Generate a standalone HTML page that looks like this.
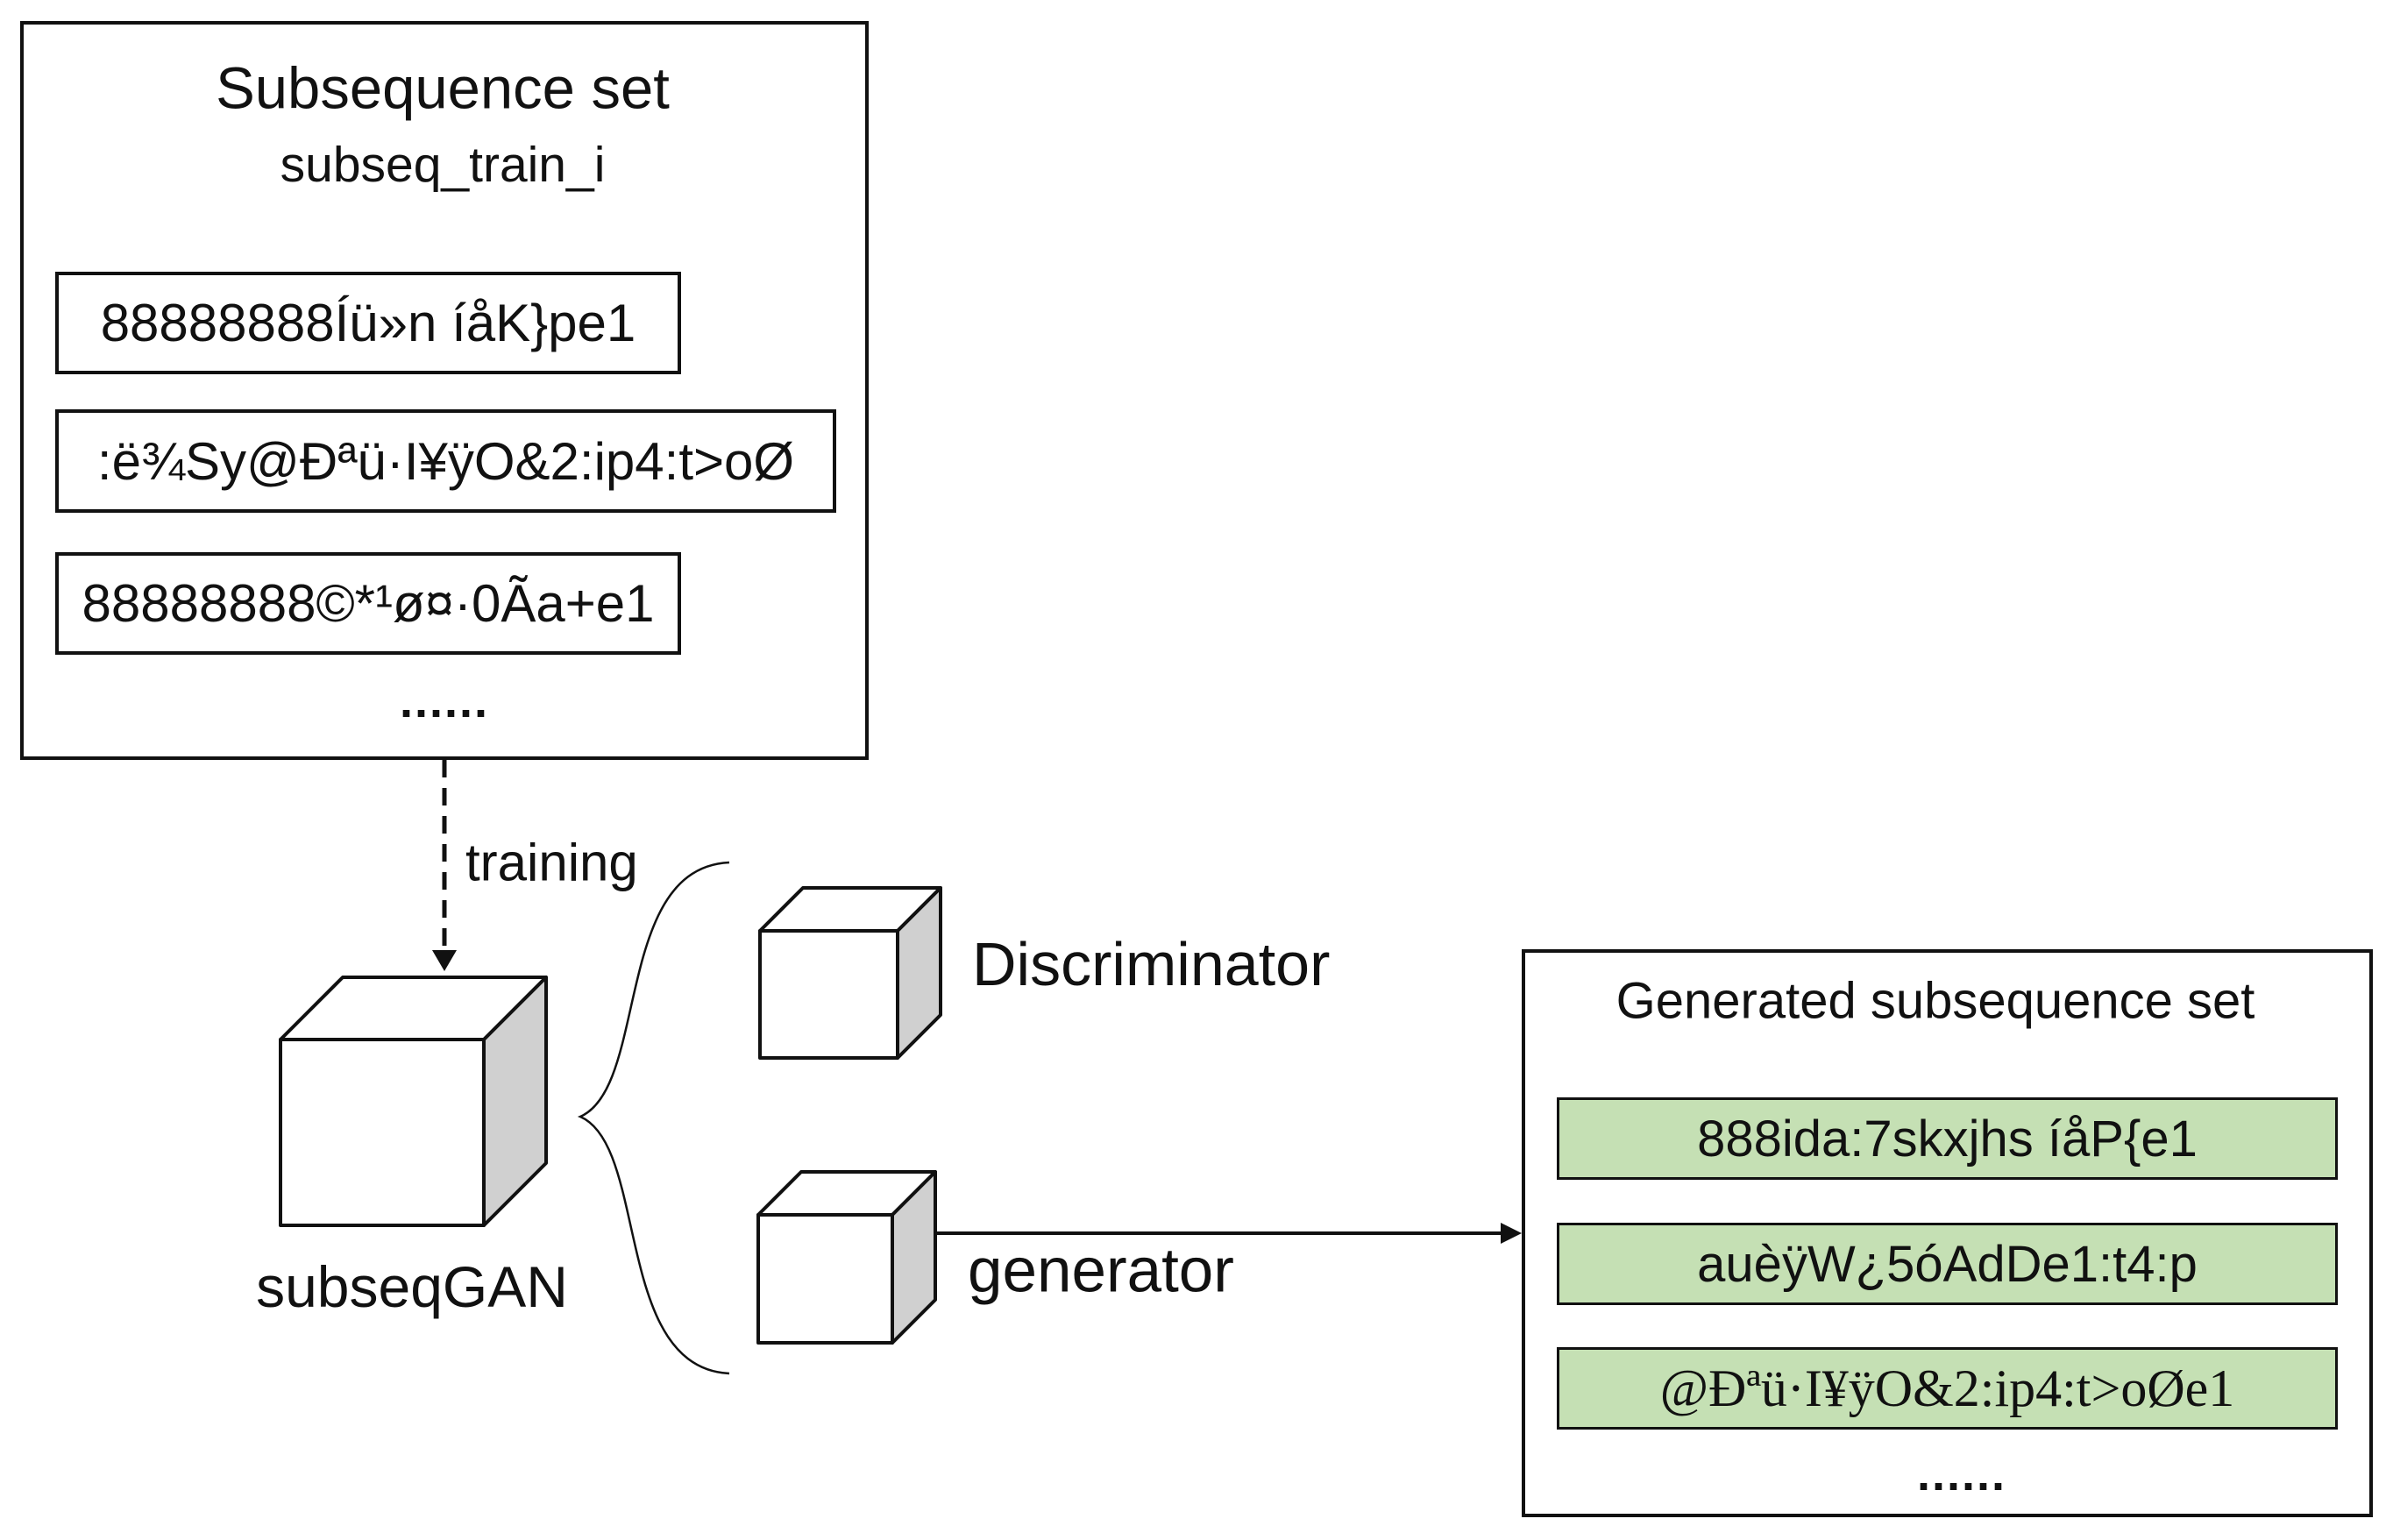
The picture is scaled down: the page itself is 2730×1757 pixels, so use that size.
<!DOCTYPE html>
<html><head><meta charset="utf-8"><style>
html,body{margin:0;padding:0;background:#fff;}
body{width:2730px;height:1757px;position:relative;overflow:hidden;font-family:"Liberation Sans","DejaVu Sans",sans-serif;color:#111;}
.t{position:absolute;white-space:nowrap;transform:translate(-50%,-50%);}
.l{position:absolute;white-space:nowrap;transform:translateY(-50%);}
.box{position:absolute;border:4px solid #111;box-sizing:border-box;display:flex;align-items:center;justify-content:center;font-size:60px;white-space:nowrap;}
.g{background:#c5e0b4;border-width:3px;font-size:58px;}
.d{font-weight:bold;letter-spacing:2px;}
</style></head><body>
<div class="box" style="left:23px;top:24px;width:968px;height:843px;"></div>
<div class="t" style="left:505px;top:101px;font-size:67px;">Subsequence set</div>
<div class="t" style="left:505px;top:188px;font-size:57px;">subseq_train_i</div>
<div class="box" style="left:63px;top:310px;width:714px;height:117px;">88888888Íü»n íåK}pe1</div>
<div class="box" style="left:63px;top:467px;width:891px;height:118px;">:ë¾Sy@Ðªü·I¥ÿO&amp;2:ip4:t&gt;oØ</div>
<div class="box" style="left:63px;top:630px;width:714px;height:117px;">88888888©*¹ø¤·0Ãa+e1</div>
<div class="t d" style="left:507px;top:800px;font-size:54px;">......</div>

<div class="box" style="left:1736px;top:1083px;width:971px;height:648px;"></div>
<div class="t" style="left:2208px;top:1142px;font-size:58px;">Generated subsequence set</div>
<div class="box g" style="left:1776px;top:1252px;width:891px;height:94px;">888ida:7skxjhs íåP{e1</div>
<div class="box g" style="left:1776px;top:1395px;width:891px;height:94px;">auèÿW¿5óAdDe1:t4:p</div>
<div class="box g" style="left:1776px;top:1537px;width:891px;height:94px;font-family:'Liberation Serif',serif;font-size:60px;">@Ðªü·I¥ÿO&amp;2:ip4:t&gt;oØe1</div>
<div class="t d" style="left:2238px;top:1682px;font-size:54px;">......</div>

<svg style="position:absolute;left:0;top:0" width="2730" height="1757">
<line x1="507" y1="867" x2="507" y2="1084" stroke="#111" stroke-width="5" stroke-dasharray="20,12"/>
<path d="M493,1084 L521,1084 L507,1108z" fill="#111"/>
<g stroke="#111" stroke-width="4" stroke-linejoin="round">
<rect x="320" y="1186" width="232" height="212" fill="#fff"/>
<path d="M320,1186 L391,1115 L623,1115 L552,1186z" fill="#fff"/>
<path d="M552,1186 L623,1115 L623,1327 L552,1398z" fill="#d0d0d0"/>
<rect x="867" y="1062" width="157" height="145" fill="#fff"/>
<path d="M867,1062 L916,1013 L1073,1013 L1024,1062z" fill="#fff"/>
<path d="M1024,1062 L1073,1013 L1073,1158 L1024,1207z" fill="#d0d0d0"/>
<rect x="865" y="1386" width="153" height="146" fill="#fff"/>
<path d="M865,1386 L914,1337 L1067,1337 L1018,1386z" fill="#fff"/>
<path d="M1018,1386 L1067,1337 L1067,1483 L1018,1532z" fill="#d0d0d0"/>
</g>
<path d="M832,984 C700,990 740,1240 662,1274 C740,1308 700,1560 832,1567" fill="none" stroke="#111" stroke-width="2.5"/>
<line x1="1069" y1="1407" x2="1720" y2="1407" stroke="#111" stroke-width="4"/>
<path d="M1712,1395 L1736,1407 L1712,1419z" fill="#111"/>
</svg>
<div class="l" style="left:531px;top:984px;font-size:60px;">training</div>
<div class="t" style="left:470px;top:1468px;font-size:66px;">subseqGAN</div>
<div class="l" style="left:1109px;top:1100px;font-size:70px;">Discriminator</div>
<div class="l" style="left:1104px;top:1450px;font-size:71px;">generator</div>
</body></html>
